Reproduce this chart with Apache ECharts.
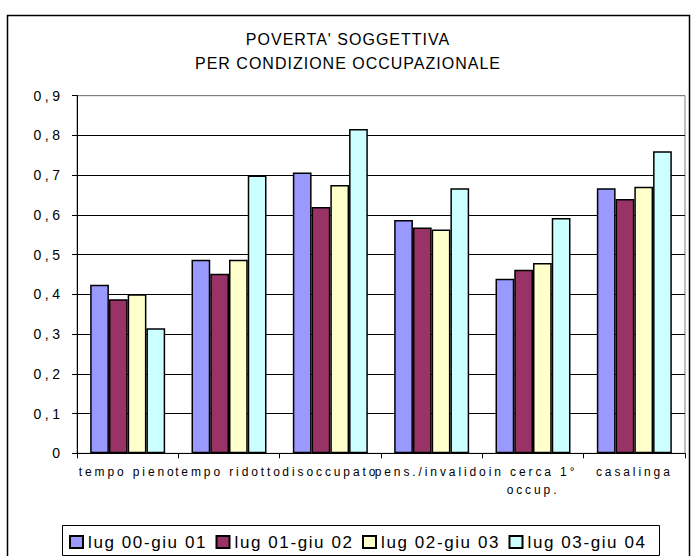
<!DOCTYPE html>
<html>
<head>
<meta charset="utf-8">
<script src="https://cdn.jsdelivr.net/npm/echarts@6/dist/echarts.min.js"></script>
<style>html,body{margin:0;padding:0;background:#fff;}#c{width:694px;height:556px;}</style>
</head>
<body>
<div id="c"></div>
<script>
const categories = ['tempo pieno', 'tempo ridotto', 'disoccupato', 'pens./invalido', 'in cerca 1°\noccup.', 'casalinga'];
const seriesNames = ['lug 00-giu 01', 'lug 01-giu 02', 'lug 02-giu 03', 'lug 03-giu 04'];
const s1 = [0.424, 0.487, 0.707, 0.587, 0.439, 0.667];
const s2 = [0.388, 0.452, 0.620, 0.568, 0.462, 0.640];
const s3 = [0.400, 0.487, 0.675, 0.563, 0.479, 0.671];
const s4 = [0.315, 0.699, 0.816, 0.667, 0.592, 0.760];
const colors = ['#9999FF', '#993366', '#FFFFCC', '#CCFFFF'];
const allData = [s1, s2, s3, s4];

const chart = echarts.init(document.getElementById('c'), null, { renderer: 'svg' });
const font = '"Liberation Sans", Arial, sans-serif';
const legendStart = 69, legendStep = 146.5;
chart.setOption({
  animation: false,
  backgroundColor: '#fff',
  textStyle: { fontFamily: font },
  title: {
    text: "POVERTA' SOGGETTIVA\nPER CONDIZIONE OCCUPAZIONALE",
    left: 343, top: 22, textAlign: 'center',
    textStyle: { fontSize: 16, fontWeight: 'normal', color: '#000', lineHeight: 24, fontFamily: font }
  },
  graphic: [
    { type: 'rect', shape: { x: 7.5, y: 15.5, width: 682, height: 600 },
      style: { fill: 'none', stroke: '#000', lineWidth: 1.5 }, z: -1, silent: true },
    { type: 'rect', shape: { x: 62.5, y: 525.5, width: 597, height: 30 },
      style: { fill: 'none', stroke: '#000', lineWidth: 1 }, z: -1, silent: true }
  ],
  grid: { left: 77, top: 95.7, right: 9, bottom: 102.7, show: true, borderColor: '#808080', borderWidth: 1 },
  legend: seriesNames.map((n, i) => ({
    data: [n],
    left: legendStart + i * legendStep, top: 533,
    padding: 0, selectedMode: false,
    itemWidth: 13, itemHeight: 12, icon: 'rect',
    textStyle: { fontSize: 17, color: '#000', fontFamily: font, lineHeight: 18 }
  })),
  xAxis: {
    type: 'category', data: categories,
    axisLine: { lineStyle: { color: '#000', width: 1 } },
    axisTick: { show: true, length: 5, lineStyle: { color: '#000' } },
    axisLabel: { color: '#000', fontSize: 12, margin: 10, interval: 0, lineHeight: 18, fontFamily: font }
  },
  yAxis: {
    type: 'value', min: 0, max: 0.9, interval: 0.1,
    axisLine: { show: true, lineStyle: { color: '#000', width: 1 } },
    axisTick: { show: true, length: 5, lineStyle: { color: '#000' } },
    axisLabel: { color: '#000', fontSize: 14, margin: 13.5, fontFamily: font,
      formatter: v => (v === 0 ? '0' : v.toFixed(1).replace('.', ',')) },
    splitLine: { show: true, lineStyle: { color: ['#000','#000','#000','#000','#000','#000','#000','#000','#000','#808080'], width: 1 } }
  },
  series: allData.map((d, i) => ({
    name: seriesNames[i], type: 'bar', data: d,
    barGap: '0%', barCategoryGap: '26%',
    itemStyle: { color: colors[i], borderColor: '#000', borderWidth: 1.5 },
    emphasis: { disabled: true }
  }))
});

const spacingBySize = { 16: '1px', 14: '3.5px', 12: '2.9px', 17: '1.6px' };
function applySpacing() {
  document.querySelectorAll('#c svg text').forEach(t => {
    const fs = Math.round(parseFloat(getComputedStyle(t).fontSize));
    if (spacingBySize[fs]) t.style.letterSpacing = spacingBySize[fs];
  });
}
chart.on('finished', applySpacing);
applySpacing();
setTimeout(applySpacing, 0);
setTimeout(applySpacing, 50);
</script>
</body>
</html>
